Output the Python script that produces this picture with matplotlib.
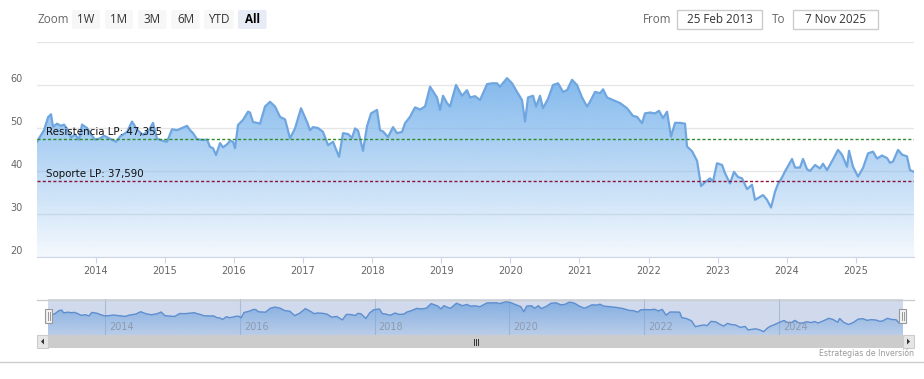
import numpy as np
import matplotlib.pyplot as plt
from matplotlib.patches import Rectangle, FancyBboxPatch, Polygon

# price series (decimal year, value)
dates = [
    2013.150, 2013.194, 2013.252, 2013.310, 2013.353, 2013.382, 2013.440, 2013.498,
    2013.541, 2013.585, 2013.643, 2013.700, 2013.758, 2013.802, 2013.874, 2013.932,
    2013.990, 2014.062, 2014.120, 2014.207, 2014.294, 2014.352, 2014.453, 2014.525,
    2014.598, 2014.685, 2014.771, 2014.829, 2014.887, 2014.974, 2015.032, 2015.104,
    2015.177, 2015.249, 2015.321, 2015.365, 2015.408, 2015.466, 2015.553, 2015.611,
    2015.654, 2015.698, 2015.741, 2015.799, 2015.842, 2015.900, 2015.944, 2015.987,
    2016.016, 2016.059, 2016.132, 2016.204, 2016.233, 2016.276, 2016.334, 2016.378,
    2016.450, 2016.522, 2016.595, 2016.667, 2016.740, 2016.812, 2016.884, 2016.971,
    2017.058, 2017.101, 2017.145, 2017.217, 2017.289, 2017.362, 2017.434, 2017.521,
    2017.579, 2017.651, 2017.709, 2017.753, 2017.796, 2017.868, 2017.926, 2017.984,
    2018.071, 2018.114, 2018.158, 2018.230, 2018.302, 2018.360, 2018.433, 2018.476,
    2018.548, 2018.621, 2018.693, 2018.766, 2018.838, 2018.939, 2018.983, 2019.026,
    2019.084, 2019.127, 2019.214, 2019.301, 2019.373, 2019.417, 2019.489, 2019.562,
    2019.663, 2019.735, 2019.808, 2019.851, 2019.952, 2020.025, 2020.097, 2020.169,
    2020.213, 2020.256, 2020.329, 2020.372, 2020.430, 2020.473, 2020.546, 2020.618,
    2020.690, 2020.763, 2020.821, 2020.893, 2020.965, 2021.038, 2021.110, 2021.153,
    2021.226, 2021.298, 2021.342, 2021.400, 2021.486, 2021.588, 2021.689, 2021.776,
    2021.834, 2021.906, 2021.949, 2022.022, 2022.094, 2022.152, 2022.210, 2022.268,
    2022.326, 2022.384, 2022.456, 2022.528, 2022.557, 2022.630, 2022.702, 2022.760,
    2022.818, 2022.890, 2022.933, 2022.991, 2023.064, 2023.107, 2023.179, 2023.237,
    2023.295, 2023.353, 2023.426, 2023.498, 2023.541, 2023.585, 2023.657, 2023.715,
    2023.773, 2023.831, 2023.874, 2023.932, 2023.975, 2024.077, 2024.120, 2024.192,
    2024.236, 2024.294, 2024.337, 2024.410, 2024.482, 2024.525, 2024.583, 2024.670,
    2024.742, 2024.800, 2024.873, 2024.902, 2024.959, 2025.032, 2025.104, 2025.177,
    2025.249, 2025.307, 2025.379, 2025.452, 2025.495, 2025.538, 2025.611, 2025.669,
    2025.741, 2025.784, 2025.842,
]
price = [
    46.8, 48.0, 49.5, 52.5, 53.2, 50.3, 51.0, 50.5,
    50.8, 49.8, 47.8, 48.5, 47.3, 50.8, 50.0, 48.5,
    47.3, 47.6, 48.2, 47.5, 46.8, 48.0, 49.1, 51.5,
    49.6, 48.4, 49.5, 51.2, 47.5, 47.0, 46.8, 49.7,
    49.5, 50.0, 50.5, 49.5, 48.8, 47.4, 47.2, 47.3,
    45.6, 45.3, 43.7, 46.5, 45.5, 46.2, 47.0, 46.8,
    45.3, 50.7, 51.9, 53.8, 53.6, 51.4, 51.2, 51.0,
    55.0, 56.1, 55.0, 52.6, 52.0, 47.6, 49.9, 54.6,
    51.4, 49.5, 50.2, 50.0, 49.1, 46.0, 46.8, 43.3,
    48.8, 48.6, 47.7, 49.9, 49.4, 44.7, 50.4, 53.4,
    54.2, 49.5, 49.2, 47.9, 50.2, 48.8, 49.1, 51.1,
    52.6, 54.8, 54.3, 55.0, 59.6, 57.1, 54.2, 57.5,
    55.8, 55.0, 60.0, 57.5, 58.8, 57.1, 57.4, 56.5,
    60.2, 60.4, 60.4, 59.6, 61.6, 60.4, 58.4, 56.5,
    51.5, 57.1, 57.5, 55.0, 57.5, 54.6, 56.8, 60.0,
    60.4, 58.4, 58.8, 61.2, 60.0, 57.1, 55.0, 56.1,
    58.4, 58.1, 59.0, 57.1, 56.5, 55.8, 54.6, 52.8,
    52.6, 51.1, 53.4, 53.6, 53.4, 54.0, 52.3, 53.8,
    48.0, 51.2, 51.2, 51.0, 45.7, 44.6, 42.4, 36.5,
    37.4, 38.3, 37.5, 41.8, 41.4, 39.5, 37.1, 39.8,
    38.6, 38.3, 35.8, 36.8, 33.3, 33.7, 34.4, 33.3,
    31.5, 35.2, 37.0, 38.5, 39.9, 42.8, 40.8, 40.8,
    42.8, 40.4, 40.0, 41.4, 40.6, 41.7, 40.2, 42.7,
    44.9, 43.8, 41.0, 44.7, 41.0, 38.7, 40.7, 44.1,
    44.5, 42.9, 43.6, 43.0, 41.9, 42.2, 44.9, 43.8,
    43.4, 40.2, 39.8,
]

resistencia = 47.355
soporte = 37.590
resistencia_label = "Resistencia LP: 47,355"
soporte_label = "Soporte LP: 37,590"

y_ticks = [20, 30, 40, 50, 60, 70]
year_ticks = list(range(2014, 2026))
nav_ticks = [2014, 2016, 2018, 2020, 2022, 2024]
buttons = ["1W", "1M", "3M", "6M", "YTD", "All"]
date_from = "25 Feb 2013"
date_to = "7 Nov 2025"
credit = "Estrategias de Inversión"

W, H = 924, 379
BLUE = (124 / 255, 181 / 255, 236 / 255)


def frac(l, t, r, b):
    return [l / W, 1 - b / H, (r - l) / W, (b - t) / H]


def gradient_area(ax, x, y, base, a_top, a_bot, z=2):
    poly = ax.fill_between(x, y, base, facecolor="none", edgecolor="none")
    grad = np.zeros((256, 1, 4))
    grad[:, :, :3] = BLUE
    grad[:, 0, 3] = np.linspace(a_top, a_bot, 256)
    im = ax.imshow(grad, extent=[x[0], x[-1], base, y.max()], aspect="auto",
                   origin="upper", zorder=z, interpolation="bilinear")
    im.set_clip_path(poly.get_paths()[0], transform=ax.transData)


x = np.array(dates)
y = np.array(price)

fig = plt.figure(figsize=(W / 100, H / 100), dpi=100)

# main chart
ax = fig.add_axes(frac(37, 42, 914, 257))
ax.set_axisbelow(True)
gradient_area(ax, x, y, 20, 0.95, 0.08)
ax.plot(x, y, color="#6fa6e0", lw=1.6, zorder=3, solid_joinstyle="round")
ax.axhline(resistencia, color="#2e8b2e", lw=1, ls=(0, (2.2, 1.6)), zorder=4)
ax.axhline(soporte, color="#8b1538", lw=1, ls=(0, (2.2, 1.6)), zorder=4)
for val, txt in ((resistencia, resistencia_label), (soporte, soporte_label)):
    ax.annotate(txt, xy=(0, val), xycoords=ax.get_yaxis_transform(),
                xytext=(9, 2), textcoords="offset pixels", ha="left", va="bottom",
                fontsize=7.4, color="#111111", family="DejaVu Sans", zorder=5)

ax.set_xlim(x[0], x[-1])
ax.set_ylim(y_ticks[0], y_ticks[-1])
ax.set_yticks(y_ticks)
ax.yaxis.grid(True, color="#e6e6e6", lw=1)
ax.tick_params(axis="y", length=0, labelleft=False)
for t in y_ticks[:-1]:
    ax.annotate(str(t), xy=(0, t), xycoords=ax.get_yaxis_transform(),
                xytext=(-14, 6), textcoords="offset pixels", ha="right", va="center",
                fontsize=7, color="#666666")
ax.set_xticks(year_ticks, labels=[str(t) for t in year_ticks])
ax.tick_params(axis="x", length=4.5, width=0.8, color="#ccd6eb", pad=2,
               labelsize=7, labelcolor="#666666")
for s in ("top", "left", "right"):
    ax.spines[s].set_visible(False)
ax.spines["bottom"].set_color("#ccd6eb")

# navigator
nav = fig.add_axes(frac(48, 299, 903, 335))
gradient_area(nav, x, y, 28.2, 0.85, 0.25)
nav.plot(x, y, color="#5a92d6", lw=1, zorder=3)
nav.set_xlim(x[0], x[-1])
nav.set_ylim(28.2, 64.2)
for t in nav_ticks:
    nav.axvline(t, color="#c9d1e0", lw=0.8, zorder=1)
    nav.annotate(str(t), xy=(t, 0), xycoords=nav.get_xaxis_transform(),
                 xytext=(4, 8), textcoords="offset pixels", ha="left", va="center",
                 fontsize=7, color="#8e9ab0", zorder=6)
nav.axvspan(x[0], x[-1], color=(102 / 255, 133 / 255, 194 / 255, 0.3), lw=0, zorder=4)
nav.set_xticks([])
nav.set_yticks([])
for s in nav.spines.values():
    s.set_visible(False)

# overlay for range selector, scrollbar and credits (pixel coordinates)
ov = fig.add_axes([0, 0, 1, 1], zorder=10)
ov.set_xlim(0, W)
ov.set_ylim(H, 0)
ov.axis("off")

ui_font = dict(family="Open Sans", fontsize=8.4)
ov.text(37, 19.5, "Zoom", color="#666666", ha="left", va="center", **ui_font)
lefts = [72, 105, 138, 171.5, 204, 238]
widths = [28, 28, 28.5, 28, 29.5, 28.5]
for b, l, w in zip(buttons, lefts, widths):
    sel = b == "All"
    ov.add_patch(FancyBboxPatch((l, 10), w, 19, boxstyle="round,pad=0,rounding_size=2",
                                fc="#e6ebf5" if sel else "#f7f7f7", ec="none"))
    ov.text(l + w / 2, 19.5, b, ha="center", va="center",
            color="#000000" if sel else "#333333",
            fontweight="bold" if sel else "normal", **ui_font)

ov.text(657, 19.5, "From", color="#666666", ha="center", va="center", **ui_font)
ov.add_patch(Rectangle((677, 10), 85, 19, fc="white", ec="#cccccc", lw=1))
ov.text(719.5, 19.5, date_from, color="#333333", ha="center", va="center", **ui_font)
ov.text(779, 19.5, "To", color="#666666", ha="center", va="center", **ui_font)
ov.add_patch(Rectangle((793, 10), 85, 19, fc="white", ec="#cccccc", lw=1))
ov.text(835.5, 19.5, date_to, color="#333333", ha="center", va="center", **ui_font)

# navigator outline and handles
ov.plot([37, 914], [299.5, 299.5], color="#cccccc", lw=1)
for hx in (48.5, 902.5):
    ov.add_patch(Rectangle((hx - 3.5, 309), 7, 14, fc="#f2f2f2", ec="#999999", lw=0.8))
    ov.plot([hx - 1, hx - 1], [312, 320], color="#999999", lw=0.7)
    ov.plot([hx + 1, hx + 1], [312, 320], color="#999999", lw=0.7)

# scrollbar
ov.add_patch(Rectangle((37, 335), 877, 13, fc="#f2f2f2", ec="none"))
ov.add_patch(Rectangle((48, 335), 855, 13, fc="#cccccc", ec="none"))
for bx in (37, 903):
    ov.add_patch(Rectangle((bx, 335), 11, 13, fc="#e6e6e6", ec="#cccccc", lw=0.8))
ov.add_patch(Polygon([[44, 338.5], [44, 344.5], [41, 341.5]], fc="#333333", ec="none"))
ov.add_patch(Polygon([[907, 338.5], [907, 344.5], [910, 341.5]], fc="#333333", ec="none"))
for gx in (473.5, 475.5, 477.5):
    ov.plot([gx, gx], [338.5, 344.5], color="#333333", lw=0.7)

ov.plot([0, W], [361.5, 361.5], color="#cccccc", lw=1)
ov.text(914, 353, credit, ha="right", va="center", family="DejaVu Sans",
        fontsize=5.6, color="#999999")

fig.savefig("out.png", dpi=100)
